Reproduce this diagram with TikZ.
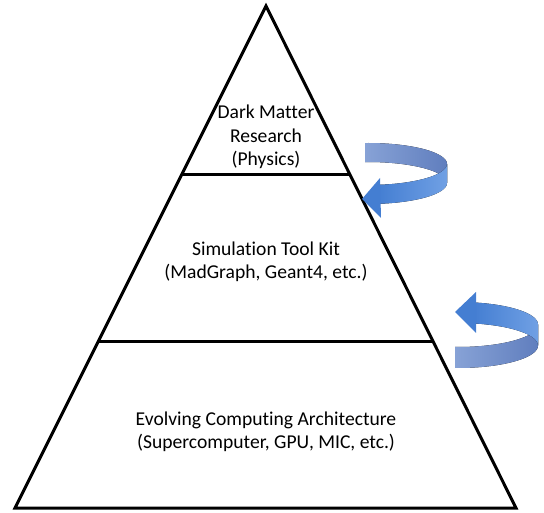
\documentclass[tikz,border=0pt]{standalone}
\usepackage{fontspec}
\setmainfont{Carlito}[Ligatures={NoCommon}]
\usetikzlibrary{calc}
\definecolor{backlight}{RGB}{135,162,214}
\definecolor{backdark}{RGB}{96,126,190}
\definecolor{frontlight}{RGB}{112,160,228}
\definecolor{frontdark}{RGB}{68,126,210}
\begin{document}
\begin{tikzpicture}[x=1pt,y=-1pt,
  tier/.style={font=\fontsize{19.6}{23.5}\selectfont, align=center, inner sep=0pt},
  edge/.style={line width=3pt, line join=miter}]
\useasboundingbox (0,0) rectangle (544,513);

% pyramid outline and tier dividers
\coordinate (apex) at (266,6);
\coordinate (bl) at (15,508);
\coordinate (br) at (516,508);
\coordinate (l1) at ($(apex)!0.3347!(bl)$);
\coordinate (r1) at ($(apex)!0.3347!(br)$);
\coordinate (l2) at ($(apex)!0.6693!(bl)$);
\coordinate (r2) at ($(apex)!0.6693!(br)$);
\draw[edge] (apex) -- (br) -- (bl) -- cycle;
\draw[edge] (l1) -- (r1);
\draw[edge] (l2) -- (r2);

% tier labels
\node[tier] (top) at (266,137) {Dark Matter\\Research\\(Physics)};
\node[tier] (mid) at (266,262) {Simulation Tool Kit\\(MadGraph, Geant4, etc.)};
\node[tier] (base) at (266,432) {Evolving Computing Architecture\\(Supercomputer, GPU, MIC, etc.)};

% upper circular arrow (turning down into the middle tier)
\fill[left color=backlight, right color=backdark]
  plot[domain=92:0, samples=40] ({368+79*cos(\x)},{164-21*sin(\x)})
  -- plot[domain=0:92, samples=40] ({368+79*cos(\x)},{183-21*sin(\x)}) -- cycle;
\fill[left color=frontdark, right color=frontlight]
  plot[domain=0:-83, samples=40] ({368+79*cos(\x)},{164-21*sin(\x)})
  -- plot[domain=-83:0, samples=40] ({368+79*cos(\x)},{183-21*sin(\x)}) -- cycle;
\fill[frontdark] (380,178) -- (362,199) -- (381,218) -- cycle;

% lower circular arrow (turning up into the middle tier)
\fill[left color=backlight, right color=backdark]
  plot[domain=-92:0, samples=40] ({458+80*cos(\x)},{324.5-22.5*sin(\x)})
  -- plot[domain=0:-92, samples=40] ({458+80*cos(\x)},{345.5-22.5*sin(\x)}) -- cycle;
\fill[left color=frontdark, right color=frontlight]
  plot[domain=0:79, samples=40] ({458+80*cos(\x)},{324.5-22.5*sin(\x)})
  -- plot[domain=79:0, samples=40] ({458+80*cos(\x)},{345.5-22.5*sin(\x)}) -- cycle;
\fill[frontdark] (476,292) -- (455,312) -- (476,333) -- cycle;
\end{tikzpicture}
\end{document}
